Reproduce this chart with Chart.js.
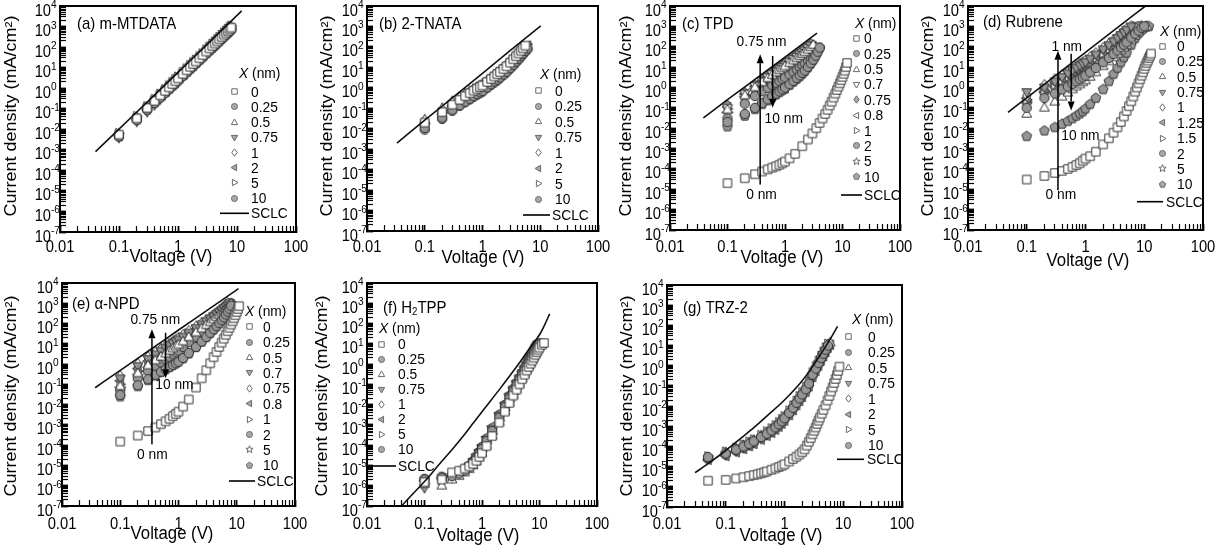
<!DOCTYPE html>
<html>
<head>
<meta charset="utf-8">
<script src="https://cdn.jsdelivr.net/npm/chart.js@4.4.1/dist/chart.umd.min.js"></script>
<style>
html, body { margin: 0; padding: 0; background: #fff; }
#fig { position: relative; width: 1226px; height: 556px; overflow: hidden; background: #fff; }
#fig canvas { position: absolute; }
</style>
</head>
<body>
<div id="fig"></div>
<script>
// ---- axis ticks ----
const xTickValues = [0.01, 0.1, 1, 10, 100];
const xTickLabels = ['0.01', '0.1', '1', '10', '100'];
const yTickExps = [-7, -6, -5, -4, -3, -2, -1, 0, 1, 2, 3, 4];

// ---- (a) m-MTDATA ----
const vA = [0.1,0.2,0.3,0.4,0.5,0.6,0.7,0.8,0.9,1,1.2,1.4,1.6,1.8,2,2.3,2.6,3,3.4,3.8,4.2,4.6,5,5.5,6,6.5,7,7.5,8];
const a0 = [0.0055,0.034,0.11,0.24,0.45,0.74,1.1,1.6,2.2,3.0,5.0,7.5,11,15,20,29,41,61,86,115,150,192,245,315,405,505,615,740,880];
const a025 = [0.0045,0.028,0.088,0.19,0.35,0.58,0.88,1.27,1.75,2.3,3.9,5.9,8.5,11.8,15.7,23,32,48,68,92,120,154,197,255,330,410,500,600,710];
const a05 = [0.0058,0.038,0.12,0.26,0.49,0.82,1.24,1.8,2.5,3.3,5.5,8.3,12,16.7,22,32,46,68,96,130,170,215,275,355,455,565,690,830,980];
const a075 = [0.004,0.024,0.072,0.155,0.29,0.48,0.72,1.05,1.45,1.9,3.2,4.8,7,9.7,13,19,27,40,56,76,99,127,162,210,270,336,410,495,585];
const a1 = [0.0052,0.035,0.105,0.23,0.43,0.71,1.08,1.56,2.15,2.9,4.8,7.2,10.5,14.6,19.4,28,40,60,84,113,148,190,244,315,405,505,615,740,880];
const a2 = [0.0047,0.031,0.095,0.21,0.39,0.65,0.98,1.42,1.96,2.6,4.4,6.6,9.5,13.2,17.6,26,36,54,76,103,134,172,220,285,365,455,555,670,795];
const a5 = [0.0064,0.043,0.13,0.29,0.53,0.88,1.34,1.94,2.7,3.6,6,9,13,18,24,35,49,74,104,140,183,235,300,390,500,625,760,915,1090];
const a10 = [0.0044,0.03,0.09,0.2,0.37,0.61,0.93,1.34,1.85,2.5,4.1,6.2,9,12.5,16.7,24,34,51,72,97,127,163,209,270,347,432,527,634,752];
const aSclcV = [0.04, 0.1, 0.3, 1, 3, 12];
const aSclcJ = [8.1e-4, 0.0102, 0.21, 5.9, 122, 5750];

// ---- (b) 2-TNATA ----
const vB = [0.1,0.2,0.3,0.4,0.5,0.6,0.7,0.8,0.9,1,1.2,1.4,1.6,1.8,2,2.3,2.6,3,3.4,3.8,4.2,4.6,5,5.5,6];
const b0 = [0.02,0.065,0.15,0.26,0.39,0.55,0.73,0.91,1.1,1.3,1.95,2.7,3.6,4.7,6,8.3,11.3,17,25,35,48,65,86,115];
const b025 = [0.011,0.035,0.085,0.14,0.21,0.29,0.39,0.49,0.6,0.7,1.05,1.5,2,2.5,3.2,4.5,6.1,9.1,13.3,19,26,35,46,63,84];
const b05 = [0.028,0.1,0.22,0.36,0.5,0.66,0.84,1.03,1.22,1.4,2,2.7,3.5,4.4,5.5,7.5,10,14.5,21,29,40,54,70,95];
const b075 = [0.013,0.043,0.1,0.17,0.26,0.36,0.48,0.6,0.72,0.85,1.28,1.8,2.4,3.1,3.9,5.4,7.4,11,16,23,31,42,56,76,100];
const b1 = [0.022,0.075,0.18,0.3,0.45,0.63,0.84,1.05,1.27,1.5,2.2,3.1,4.2,5.4,6.9,9.6,13,19.5,28,40,55,75,100];
const b2 = [0.015,0.05,0.12,0.2,0.3,0.42,0.56,0.7,0.85,1,1.5,2.1,2.8,3.6,4.6,6.4,8.7,13,19,27,37,50,66,90,115];
const b5 = [0.018,0.06,0.14,0.24,0.36,0.5,0.67,0.84,1.02,1.2,1.8,2.5,3.4,4.3,5.5,7.7,10.4,15.6,23,32,44,60,79,108];
const b10 = [0.009,0.03,0.075,0.13,0.195,0.27,0.36,0.46,0.55,0.65,0.98,1.37,1.8,2.3,3,4.2,5.7,8.5,12.4,17.5,24,33,43,58,78];
const bSclcV = [0.033, 0.1, 0.3, 1, 3, 10.2];
const bSclcJ = [2e-3, 0.026, 0.32, 5.1, 65, 1070];

// ---- (c) TPD ----
const vC0 = [0.1,0.2,0.3,0.4,0.5,0.6,0.7,0.8,0.9,1,1.2,1.5,2,2.5,3,3.5,4,4.5,5,5.5,6,6.5,7,7.5,8,8.5,9,9.5,10,10.5,11,11.5,12];
const c0 = [2e-5,3.5e-5,5.5e-5,7.5e-5,9.5e-5,1.15e-4,1.35e-4,1.6e-4,1.9e-4,2.3e-4,3.3e-4,5.5e-4,1.3e-3,2.8e-3,5.5e-3,1e-2,1.8e-2,3e-2,5e-2,8e-2,0.13,0.2,0.32,0.5,0.75,1.1,1.6,2.3,3.3,4.7,6.7,10,16];
const vC = [0.1,0.2,0.3,0.4,0.5,0.6,0.7,0.8,0.9,1,1.2,1.4,1.6,1.8,2,2.2,2.5,2.8,3.1,3.4,3.7,4];
const c025 = [0.02,0.05,0.1,0.17,0.26,0.37,0.5,0.64,0.8,0.98,1.45,2.1,2.9,3.9,5.2,6.8,10.3,15.5,23,36,57,90];
const c05 = [0.08,0.4,1.0,1.8,2.8,4,5.4,7,8.8,10.8,15.5,21,27.5,35,44,54,72,95,122];
const c07 = [0.1,0.5,1.2,2.1,3.2,4.6,6.2,8,10,12.5,18,24.5,32,41,52,64,85,112];
const c075 = [0.13,0.55,1.3,2.4,3.8,5.6,7.8,10.3,13,16,23,31,41,52,65,80,105,135];
const c08 = [0.11,0.48,1.15,2.05,3.2,4.6,6.3,8.2,10.3,12.7,18.3,25,33,42,53,65,86,112];
const c1 = [0.09,0.42,1.0,1.85,2.9,4.2,5.7,7.4,9.3,11.5,16.5,22.5,29.5,37.5,47,58,77,100,128];
const c2 = [0.03,0.16,0.38,0.65,0.95,1.3,1.7,2.1,2.6,3.1,4.3,5.8,7.6,9.8,12.5,15.5,21,28,37,49,66,90];
const c5 = [0.05,0.3,0.75,1.3,2,2.8,3.7,4.7,5.8,7,9.8,13,17,21.5,27,33,44,58,76,100];
const c10 = [0.012,0.04,0.085,0.15,0.23,0.33,0.45,0.58,0.72,0.85,1.3,1.9,2.6,3.5,4.7,6.2,9.5,14.5,22,35,55,85];
const cSclcV = [0.038, 0.1, 0.3, 1, 3.6];
const cSclcJ = [0.032, 0.25, 2.5, 31, 460];

// ---- (d) Rubrene ----
const vD0 = [0.1,0.2,0.3,0.4,0.5,0.6,0.7,0.8,0.9,1,1.2,1.5,2,2.5,3,3.5,4,4.5,5,5.5,6,6.5,7,7.5,8,8.5,9,9.5,10,10.5,11,11.5,12,12.5,13];
const d0 = [3e-5,4.5e-5,6.3e-5,8e-5,1e-4,1.25e-4,1.55e-4,1.9e-4,2.5e-4,3.2e-4,4.2e-4,7e-4,1.6e-3,3.2e-3,6e-3,1.1e-2,2e-2,3.8e-2,7e-2,0.12,0.21,0.36,0.62,1.0,1.6,2.5,3.8,5.6,8.2,11.5,16,21,28,36,46];
const vD = [0.1,0.2,0.3,0.4,0.5,0.6,0.7,0.8,0.9,1,1.2,1.5,2,2.5,3,3.5,4,4.5,5,6,7,8,9,10,11,12];
const d025 = [0.1,0.3,0.5,0.8,1.1,1.5,2,2.5,3.1,3.8,5.5,9,17,28,44,65,92,125,165,280,430,620,850,1000];
const d05 = [0.05,0.1,0.2,0.35,0.55,0.8,1.1,1.4,1.8,2.2,3.3,5.5,11,19,30,45,65,90,120,210,340,500,700,900,1000];
const d075 = [0.6,1.0,2,3.3,5,7,9.3,12,15,18,26,42,75,120,185,270,380,510,680,1000];
const d1 = [0.4,1.3,2.5,4,6,8.2,11,14,17,21,30,48,85,140,210,300,420,560,750,1000];
const d125 = [0.3,0.9,1.8,3,4.5,6.2,8.2,10.5,13,16,23,37,66,105,160,235,330,450,600,950];
const d15 = [0.25,0.7,1.4,2.3,3.4,4.7,6.2,8,10,12,17.5,28,50,80,120,175,250,340,450,720,1000];
const d2 = [0.2,0.6,1.2,1.9,2.8,3.8,5,6.4,8,9.8,14,22,40,65,100,145,200,270,360,580,850,1000];
const d5 = [0.15,0.5,0.9,1.4,2,2.8,3.6,4.6,5.8,7,10,16,29,47,72,105,150,200,265,430,640,880,1000];
const d10 = [4e-3,7.5e-3,1.1e-2,1.6e-2,2.2e-2,3e-2,4e-2,5.2e-2,6.6e-2,9e-2,0.15,0.3,0.8,2,4.5,9,17,30,50,120,260,450,650,850,980,1000];
const dSclcV = [0.048, 0.1, 0.3, 1, 3, 10.5];
const dSclcJ = [0.06, 0.31, 3.6, 53, 615, 1e4];

// ---- (e) alpha-NPD ----
const vE0 = [0.1,0.2,0.3,0.4,0.5,0.6,0.7,0.8,0.9,1,1.2,1.5,2,2.5,3,3.5,4,4.5,5,5.5,6,6.5,7,7.5,8,8.5,9,9.5,10,10.5,11];
const e0 = [1.5e-4,3e-4,5e-4,7.5e-4,1.1e-3,1.5e-3,2e-3,2.7e-3,3.5e-3,4.5e-3,8e-3,1.8e-2,7e-2,0.2,0.5,1.1,2.2,4,7,11.5,18,28,42,62,90,130,185,260,370,520,720];
const vE = [0.1,0.2,0.3,0.4,0.5,0.6,0.7,0.8,0.9,1,1.2,1.5,2,2.5,3,3.5,4,4.5,5,5.5,6,6.5,7,7.5,8];
const e025 = [0.03,0.09,0.18,0.3,0.42,0.56,0.72,0.9,1.1,1.3,2,3.5,7,13,22,35,52,75,105,145,200,280,390,540,750];
const e05 = [0.08,0.35,0.85,1.5,2.3,3.3,4.5,5.9,7.4,9,13,21,36,56,82,115,155,205,265,335,420,520,640,780,950];
const e07 = [0.2,0.8,1.8,3.1,4.6,6.4,8.5,11,13.5,16.5,23,36,60,92,130,175,230,295,370,460,570,700,850,1000];
const e075 = [0.25,1.0,2.2,3.8,5.6,7.8,10,13,16,19,27,42,70,105,150,200,260,330,420,520,650,800,1000];
const e08 = [0.15,0.6,1.4,2.5,3.8,5.4,7.2,9.3,11.5,14,20,31,52,80,115,155,205,265,335,420,520,640,780,930];
const e1 = [0.1,0.45,1.1,2,3,4.3,5.8,7.5,9.4,11.5,16.5,26,44,68,98,135,180,235,300,380,470,580,710,850,1000];
const e2 = [0.05,0.2,0.45,0.8,1.2,1.7,2.3,3,3.8,4.7,7,12,22,37,57,84,118,160,215,285,370,480,620,800,1000];
const e5 = [0.06,0.25,0.6,1.1,1.7,2.5,3.4,4.4,5.6,7,10,17,30,47,70,98,135,180,235,300,380,470,580,710,870];
const e10 = [0.025,0.08,0.16,0.27,0.4,0.55,0.7,0.88,1.08,1.3,1.9,3.3,6.8,12.5,21,33,50,73,103,142,195,270,380,530,750];
const eSclcV = [0.037, 0.1, 0.3, 1, 3, 10.7];
const eSclcJ = [0.068, 0.49, 4.3, 48, 420, 5250];

// ---- (f) H2TPP ----
const vF = [0.1,0.2,0.3,0.4,0.5,0.6,0.7,0.8,0.9,1,1.2,1.5,2,2.5,3,3.5,4,4.5,5,5.5,6,6.5,7,7.5,8,8.5,9,9.5,10,11,12];
const f0 = [1.5e-6,2e-6,4.5e-6,5.5e-6,7e-6,9e-6,1.2e-5,1.7e-5,2.6e-5,4e-5,9e-5,2.8e-4,1.3e-3,4.5e-3,1.2e-2,2.8e-2,5.5e-2,0.1,0.18,0.3,0.48,0.72,1.05,1.5,2.1,2.9,3.9,5.1,6.5,9,11];
const f025 = [2e-6,2.5e-6,3e-6,4e-6,5.5e-6,8e-6,1.3e-5,2.2e-5,3.8e-5,6.5e-5,1.6e-4,5e-4,2.3e-3,7.5e-3,0.02,0.045,0.09,0.17,0.3,0.5,0.8,1.2,1.8,2.7,4,5.6,7.5,9,10];
const f05 = [1.2e-6,1e-6,2e-6,3e-6,4.5e-6,6.5e-6,1e-5,1.6e-5,2.6e-5,4.2e-5,1e-4,3e-4,1.4e-3,4.8e-3,1.3e-2,3e-2,6e-2,0.11,0.2,0.33,0.52,0.8,1.15,1.65,2.3,3.2,4.3,5.7,7.5,10];
const f075 = [8e-7,1.5e-6,2.5e-6,4e-6,6e-6,9e-6,1.5e-5,2.5e-5,4.2e-5,7e-5,1.8e-4,6e-4,2.8e-3,9e-3,0.025,0.055,0.11,0.2,0.36,0.6,0.95,1.45,2.2,3.2,4.6,6.5,8.5,10];
const f1 = [1.5e-6,2.2e-6,3.2e-6,4.5e-6,6.5e-6,9.5e-6,1.5e-5,2.4e-5,4e-5,6.5e-5,1.5e-4,4.5e-4,2e-3,6.5e-3,0.018,0.04,0.08,0.15,0.26,0.43,0.68,1.05,1.55,2.3,3.3,4.6,6.3,8.3,10];
const f2 = [1.8e-6,2.4e-6,3.5e-6,5.2e-6,7.8e-6,1.2e-5,2e-5,3.4e-5,5.8e-5,1e-4,2.6e-4,8.5e-4,3.8e-3,0.012,0.032,0.07,0.14,0.25,0.44,0.72,1.1,1.7,2.5,3.6,5.2,7.2,9.5];
const f5 = [1.3e-6,1.9e-6,2.8e-6,3.8e-6,5.5e-6,8e-6,1.2e-5,1.9e-5,3.1e-5,5e-5,1.2e-4,3.6e-4,1.6e-3,5.2e-3,0.014,0.032,0.064,0.12,0.21,0.35,0.55,0.85,1.28,1.9,2.7,3.8,5.2,7,9,10.5];
const f10 = [2.2e-6,2.8e-6,3.4e-6,4.6e-6,6.5e-6,9.5e-6,1.6e-5,2.7e-5,4.6e-5,8e-5,2e-4,6.5e-4,3e-3,9.5e-3,0.026,0.058,0.115,0.21,0.37,0.62,0.98,1.5,2.25,3.3,4.7,6.6,8.8,10];
const fSclcV = [0.04,0.06,0.1,0.2,0.3,0.5,0.7,1,2,3,5,7,10,12,15];
const fSclcJ = [1e-7,3.5e-7,1.6e-6,1.6e-5,6e-5,3.5e-4,1.2e-3,4.5e-3,5.5e-2,0.25,1.8,7,28,75,300];

// ---- (g) TRZ-2 ----
const vG0 = [0.05,0.1,0.15,0.2,0.25,0.3,0.35,0.4,0.45,0.5,0.6,0.7,0.8,0.9,1,1.2,1.4,1.6,1.8,2,2.2,2.4,2.6,2.8,3,3.2,3.4,3.6,3.8,4,4.3,4.6,5,5.4,5.8,6.2,6.6,7,7.4,7.8,8.2,8.6];
const g0 = [2e-6,2.2e-6,2.6e-6,3e-6,3.4e-6,3.8e-6,4.2e-6,4.7e-6,5.2e-6,5.8e-6,7e-6,8.2e-6,9.6e-6,1.1e-5,1.3e-5,1.8e-5,2.4e-5,3.1e-5,4e-5,5.2e-5,7.2e-5,1.1e-4,1.7e-4,2.6e-4,4e-4,6e-4,8.8e-4,1.3e-3,1.9e-3,2.7e-3,4.2e-3,6.5e-3,1.1e-2,1.9e-2,3.2e-2,5.3e-2,8.5e-2,0.14,0.22,0.35,0.55,0.9];
const vG = [0.05,0.1,0.15,0.2,0.25,0.3,0.4,0.5,0.6,0.7,0.8,0.9,1,1.2,1.4,1.6,1.8,2,2.3,2.6,3,3.4,3.8,4.2,4.6,5,5.5,6];
const g025 = [3e-5,4.5e-5,7e-5,1e-4,1.35e-4,1.8e-4,2.9e-4,4.3e-4,6.2e-4,8.8e-4,1.25e-3,1.75e-3,2.5e-3,4.6e-3,8.2e-3,1.45e-2,2.4e-2,3.8e-2,6.8e-2,0.13,0.36,0.72,1.35,2.4,3.9,6.2,10];
const g05 = [2.8e-5,5e-5,7.8e-5,1.15e-4,1.55e-4,2.05e-4,3.4e-4,5e-4,7.2e-4,1.02e-3,1.45e-3,2.05e-3,2.9e-3,5.4e-3,9.6e-3,1.7e-2,2.8e-2,4.4e-2,7.8e-2,0.15,0.42,0.84,1.55,2.75,4.5,7.2,11,14];
const g075 = [2.5e-5,3.8e-5,5.9e-5,8.5e-5,1.17e-4,1.53e-4,2.5e-4,3.8e-4,5.4e-4,7.6e-4,1.08e-3,1.5e-3,2.2e-3,4e-3,7.2e-3,1.26e-2,2.1e-2,3.3e-2,5.9e-2,0.11,0.32,0.63,1.2,2.1,3.4,5.4,9];
const g1 = [2.7e-5,4.6e-5,7.2e-5,1.05e-4,1.43e-4,1.9e-4,3.1e-4,4.6e-4,6.6e-4,9.4e-4,1.3e-3,1.9e-3,2.6e-3,5e-3,8.8e-3,1.55e-2,2.5e-2,4e-2,7.2e-2,0.13,0.38,0.77,1.43,2.5,4.2,6.6,11];
const g2 = [2.2e-5,3.4e-5,5.2e-5,7.6e-5,1.04e-4,1.36e-4,2.2e-4,3.4e-4,4.8e-4,6.8e-4,9.6e-4,1.36e-3,1.9e-3,3.6e-3,6.4e-3,1.12e-2,1.84e-2,2.9e-2,5.2e-2,9.6e-2,0.28,0.56,1.04,1.84,3,4.8,8,11];
const g5 = [3.2e-5,5.5e-5,8.5e-5,1.24e-4,1.7e-4,2.2e-4,3.6e-4,5.5e-4,7.8e-4,1.1e-3,1.56e-3,2.2e-3,3.1e-3,5.9e-3,1.04e-2,1.8e-2,3e-2,4.7e-2,8.5e-2,0.16,0.46,0.9,1.7,3,4.9,7.8,12];
const g10 = [2.4e-5,4e-5,6.2e-5,9e-5,1.24e-4,1.6e-4,2.7e-4,4e-4,5.7e-4,8.1e-4,1.14e-3,1.6e-3,2.3e-3,4.3e-3,7.6e-3,1.33e-2,2.2e-2,3.4e-2,6.2e-2,0.115,0.33,0.67,1.24,2.2,3.6,5.7,9.5];
const gSclcV = [0.03,0.05,0.1,0.2,0.3,0.5,1,2,3,4,5,6,8];
const gSclcJ = [5e-6,1.4e-5,6.3e-5,3.2e-4,8.5e-4,3.2e-3,0.02,0.18,0.9,3.2,9,21,90];

// ---- legend labels and marker codes ----
const labels8 = ['0', '0.25', '0.5', '0.75', '1', '2', '5', '10'];
const marks8 = ['sq', 'gc', 'ot', 'gv', 'od', 'gl', 'or', 'gc'];
const labelsC = ['0', '0.25', '0.5', '0.7', '0.75', '0.8', '1', '2', '5', '10'];
const marksC = ['sq', 'gc', 'ot', 'ov', 'gd', 'ol', 'or', 'gc', 'os', 'gp'];
const labelsD = ['0', '0.25', '0.5', '0.75', '1', '1.25', '1.5', '2', '5', '10'];
const marksD = ['sq', 'gc', 'ot', 'gv', 'od', 'gl', 'or', 'gc', 'os', 'gp'];
const labelsE = ['0', '0.25', '0.5', '0.7', '0.75', '0.8', '1', '2', '5', '10'];
const marksE = ['sq', 'gc', 'ot', 'gv', 'od', 'gl', 'or', 'gc', 'os', 'gp'];

const FONT = '"Liberation Sans", Arial, Helvetica, sans-serif';
const GRAY = '#969696';
const EDGE = '#333333';

const MARKERS = {
    sq: ['square', 0, false], gc: ['circle', 0, true], ot: ['tri', 0, false],
    gv: ['tri', 180, true], od: ['diamond', 0, false], gl: ['tri', -90, true],
    or: ['tri', 90, false], ov: ['tri', 180, false], gd: ['diamond', 0, true],
    ol: ['tri', -90, false], os: ['star', 0, false], gp: ['pent', 0, true]
};

function shapePath(ctx, shape, r) {
    ctx.beginPath();
    if (shape === 'square') {
        const s = r * 0.85;
        ctx.rect(-s, -s, 2 * s, 2 * s);
    } else if (shape === 'circle') {
        ctx.arc(0, 0, r * 0.95, 0, Math.PI * 2);
    } else if (shape === 'diamond') {
        ctx.moveTo(0, -r * 1.15); ctx.lineTo(r * 0.85, 0);
        ctx.lineTo(0, r * 1.15); ctx.lineTo(-r * 0.85, 0);
        ctx.closePath();
    } else if (shape === 'tri') {
        ctx.moveTo(0, -r * 1.1); ctx.lineTo(r, r * 0.65); ctx.lineTo(-r, r * 0.65);
        ctx.closePath();
    } else if (shape === 'star') {
        for (let i = 0; i < 10; i++) {
            const ang = -Math.PI / 2 + i * Math.PI / 5;
            const rr = i % 2 ? r * 0.5 : r * 1.2;
            ctx.lineTo(Math.cos(ang) * rr, Math.sin(ang) * rr);
        }
        ctx.closePath();
    } else if (shape === 'pent') {
        for (let i = 0; i < 5; i++) {
            const ang = -Math.PI / 2 + i * Math.PI * 2 / 5;
            ctx.lineTo(Math.cos(ang) * r * 1.05, Math.sin(ang) * r * 1.05);
        }
        ctx.closePath();
    }
}

const markerCache = {};
function marker(code, r, edge, gray) {
    const key = code + '_' + r;
    if (markerCache[key]) return markerCache[key];
    const [shape, rot, filled] = MARKERS[code];
    const size = Math.ceil(r * 2.8) + 2;
    const c = document.createElement('canvas');
    c.width = size; c.height = size;
    const g = c.getContext('2d');
    g.translate(size / 2, size / 2);
    g.rotate(rot * Math.PI / 180);
    shapePath(g, shape, r);
    g.fillStyle = filled ? gray : '#fff';
    g.fill();
    g.lineWidth = 1;
    g.strokeStyle = edge;
    g.stroke();
    markerCache[key] = c;
    return c;
}

function txt(ctx, s, x, y, o) {
    o = o || {};
    ctx.save();
    ctx.font = (o.italic ? 'italic ' : '') + (o.size || 15) + 'px ' + FONT;
    ctx.fillStyle = '#000';
    ctx.textAlign = o.align || 'left';
    ctx.textBaseline = o.base || 'alphabetic';
    ctx.translate(x, y);
    ctx.scale(o.sx || 0.92, 1);
    if (o.rot) ctx.rotate(o.rot);
    ctx.fillText(s, 0, 0);
    ctx.restore();
}

function textWidth(ctx, s, size, sx, italic) {
    ctx.save();
    ctx.font = (italic ? 'italic ' : '') + size + 'px ' + FONT;
    const w = ctx.measureText(s).width * sx;
    ctx.restore();
    return w;
}

function hbar(ctx, x1, x2, y, w) {
    ctx.fillRect(Math.min(x1, x2), y - w / 2, Math.abs(x2 - x1), w);
}
function vbar(ctx, x, y1, y2, w) {
    ctx.fillRect(x - w / 2, Math.min(y1, y2), w, Math.abs(y2 - y1));
}

function arrow(ctx, x, y0, y1) {
    const dir = y1 < y0 ? -1 : 1;
    const head = 9;
    vbar(ctx, x, y0, y1 - dir * head, 1.5);
    ctx.beginPath();
    ctx.moveTo(x, y1);
    ctx.lineTo(x - 3.5, y1 - dir * head);
    ctx.lineTo(x + 3.5, y1 - dir * head);
    ctx.closePath();
    ctx.fill();
}

const panels = [
    { key: 'a', box: [0, 0, 320, 280], plot: [60, 5, 296, 232],
      title: [['(a) m-MTDATA']], titlePos: [77, 28.5],
      xTitle: [171, 262], yTitle: [12, 116], xLabelY: 252,
      sclc: [aSclcV, aSclcJ], labels: labels8, marks: marks8,
      volts: [vA, vA, vA, vA, vA, vA, vA, vA],
      currents: [a0, a025, a05, a075, a1, a2, a5, a10],
      legend: { hx: 239, hy: 73, mx: 234, tx: 251, y0: 91.7, dy: 15.2, sx1: 220, sx2: 249, sy: 213.3, stx: 251 },
      arrows: [], notes: [] },
    { key: 'b', box: [305, 0, 320, 280], plot: [367, 5, 598, 231],
      title: [['(b) 2-TNATA']], titlePos: [379, 28.5],
      xTitle: [483, 263], yTitle: [328, 116], xLabelY: 252,
      sclc: [bSclcV, bSclcJ], labels: labels8, marks: marks8,
      volts: [vB, vB, vB, vB, vB, vB, vB, vB],
      currents: [b0, b025, b05, b075, b1, b2, b5, b10],
      legend: { hx: 540, hy: 74, mx: 538, tx: 555, y0: 90.7, dy: 15.5, sx1: 523, sx2: 550, sy: 215, stx: 552 },
      arrows: [], notes: [] },
    { key: 'c', box: [610, 0, 320, 280], plot: [670, 5, 900, 230],
      title: [['(c) TPD']], titlePos: [682, 28.5],
      xTitle: [782, 263], yTitle: [627, 116], xLabelY: 252,
      sclc: [cSclcV, cSclcJ], labels: labelsC, marks: marksC,
      volts: [vC0, vC, vC, vC, vC, vC, vC, vC, vC, vC],
      currents: [c0, c025, c05, c07, c075, c08, c1, c2, c5, c10],
      legend: { hx: 855, hy: 22.7, mx: 856, tx: 864, y0: 38.3, dy: 15.37, sx1: 841, sx2: 862, sy: 195, stx: 864 },
      arrows: [[0.37, 1.7e-5, 43], [0.61, 35, 0.1]],
      notes: [['0.75 nm', 0.39, 190], ['0 nm', 0.39, 6e-6], ['10 nm', 0.95, 0.032]] },
    { key: 'd', box: [915, 0, 311, 280], plot: [968, 5, 1203, 230],
      title: [['(d) Rubrene']], titlePos: [983, 27],
      xTitle: [1088, 266], yTitle: [929, 116], xLabelY: 252,
      sclc: [dSclcV, dSclcJ], labels: labelsD, marks: marksD,
      volts: [vD0, vD, vD, vD, vD, vD, vD, vD, vD, vD],
      currents: [d0, d025, d05, d075, d1, d125, d15, d2, d5, d10],
      legend: { hx: 1160, hy: 30.7, mx: 1162, tx: 1177, y0: 46, dy: 15.37, sx1: 1137, sx2: 1163, sy: 201.7, stx: 1166 },
      arrows: [[0.34, 8.9e-6, 63], [0.57, 45, 0.074]],
      notes: [['1 nm', 0.48, 110], ['0 nm', 0.38, 6.2e-6], ['10 nm', 0.82, 4.4e-3]] },
    { key: 'e', box: [0, 276, 320, 280], plot: [62, 283, 295, 506],
      title: [['(e) \u03b1-NPD']], titlePos: [72, 309.3],
      xTitle: [172, 539], yTitle: [12, 396], xLabelY: 529,
      sclc: [eSclcV, eSclcJ], labels: labelsE, marks: marksE,
      volts: [vE0, vE, vE, vE, vE, vE, vE, vE, vE, vE],
      currents: [e0, e025, e05, e07, e075, e08, e1, e2, e5, e10],
      legend: { hx: 245, hy: 311, mx: 249, tx: 263, y0: 326.7, dy: 15.4, sx1: 229, sx2: 255, sy: 481, stx: 257 },
      arrows: [[0.35, 1.1e-4, 52], [0.6, 35, 0.2]],
      notes: [['0.75 nm', 0.4, 160], ['0 nm', 0.355, 3.5e-5], ['10 nm', 0.85, 0.11]] },
    { key: 'f', box: [305, 276, 320, 280], plot: [367, 283, 597, 506],
      title: [['(f) H'], ['2', 11, 2], ['TPP']], titlePos: [383, 313.3],
      xTitle: [478, 541], yTitle: [323, 396], xLabelY: 529,
      sclc: [fSclcV, fSclcJ], labels: labels8, marks: marks8,
      volts: [vF, vF, vF, vF, vF, vF, vF, vF],
      currents: [f0, f025, f05, f075, f1, f2, f5, f10],
      legend: { hx: 379, hy: 327.7, mx: 381, tx: 398, y0: 344.3, dy: 15, sx1: 370, sx2: 396, sy: 466, stx: 398 },
      arrows: [], notes: [] },
    { key: 'g', box: [610, 276, 320, 280], plot: [667, 285, 902, 507],
      title: [['(g) TRZ-2']], titlePos: [683, 313.3],
      xTitle: [781, 541], yTitle: [628, 396], xLabelY: 529,
      sclc: [gSclcV, gSclcJ], labels: labels8, marks: marks8,
      volts: [vG0, vG, vG, vG, vG, vG, vG, vG],
      currents: [g0, g025, g05, g075, g1, g2, g5, g10],
      legend: { hx: 852, hy: 319.3, mx: 848, tx: 868, y0: 336.7, dy: 15.5, sx1: 837, sx2: 864, sy: 459.3, stx: 867 },
      arrows: [], notes: [] }
];

function panelPlugin(p) {
    const ox = p.box[0], oy = p.box[1];
    return {
        id: 'panel_' + p.key,
        afterDraw(chart) {
            const ctx = chart.ctx;
            const xs = chart.scales.x, ys = chart.scales.y;
            const left = xs.getPixelForValue(xTickValues[0]);
            ctx.save();
            ctx.fillStyle = '#000000';

            p.arrows.forEach(ar => {
                arrow(ctx, xs.getPixelForValue(ar[0]), ys.getPixelForValue(ar[1]), ys.getPixelForValue(ar[2]));
            });
            p.notes.forEach(n => {
                txt(ctx, n[0], xs.getPixelForValue(n[1]), ys.getPixelForValue(n[2]) + 5, { size: 15, align: 'center', sx: 0.92 });
            });

            xTickValues.forEach((v, i) => {
                txt(ctx, xTickLabels[i], xs.getPixelForValue(v), p.xLabelY - oy, { size: 16, align: 'center', sx: 0.92 });
            });
            yTickExps.forEach(e => {
                const py = ys.getPixelForValue(Math.pow(10, e));
                txt(ctx, '10', left - 9, py + 9.5, { size: 16, align: 'right', sx: 0.92 });
                txt(ctx, e < 0 ? '-' + (-e) : String(e), left - 9, py + 2, { size: 11, align: 'left', sx: 0.92 });
            });

            txt(ctx, 'Voltage (V)', p.xTitle[0] - ox, p.xTitle[1] - oy, { size: 18, align: 'center', sx: 0.93 });
            txt(ctx, 'Current density (mA/cm\u00b2)', p.yTitle[0] - ox, p.yTitle[1] - oy,
                { size: 18, align: 'center', base: 'middle', sx: 0.9, rot: -Math.PI / 2 });

            let tx = p.titlePos[0] - ox;
            p.title.forEach(sg => {
                const size = sg[1] || 17;
                txt(ctx, sg[0], tx, p.titlePos[1] - oy + (sg[2] || 0), { size: size, sx: 0.88 });
                tx += textWidth(ctx, sg[0], size, 0.88, false);
            });

            const lg = p.legend;
            txt(ctx, 'X', lg.hx - ox, lg.hy - oy + 5, { size: 15, italic: true, sx: 0.92 });
            const wx = textWidth(ctx, 'X', 15, 0.92, true);
            txt(ctx, ' (nm)', lg.hx - ox + wx, lg.hy - oy + 5, { size: 15, sx: 0.92 });
            p.labels.forEach((lab, i) => {
                const y = lg.y0 - oy + i * lg.dy;
                const mk = marker(p.marks[i], 3.2, '#6a6a6a', '#a8a8a8');
                ctx.drawImage(mk, Math.round(lg.mx - ox - mk.width / 2), Math.round(y - mk.height / 2));
                txt(ctx, lab, lg.tx - ox, y + 5, { size: 15, sx: 0.92 });
            });
            ctx.fillStyle = '#000000';
            hbar(ctx, lg.sx1 - ox, lg.sx2 - ox, lg.sy - oy, 1.6);
            txt(ctx, 'SCLC', lg.stx - ox, lg.sy - oy + 5, { size: 15, sx: 0.92 });

            ctx.restore();
        }
    };
}

// Chart.js draws the frame (axis borders) and inward tick marks itself
const tickGrid = {
    display: true,
    drawOnChartArea: false,
    drawTicks: true,
    tickLength: -6,
    color: 'rgba(0,0,0,0)',
    tickColor: c => (c.tick && c.tick.significand === 15) ? 'rgba(0,0,0,0)' : '#000',
    tickWidth: c => (c.tick && c.tick.major) ? 1.8 : 1.2
};
const frameBorder = { display: true, color: '#000', width: 2 };

function buildPanel(p) {
    const fig = document.getElementById('fig');
    const cv = document.createElement('canvas');
    cv.width = p.box[2];
    cv.height = p.box[3];
    cv.style.left = p.box[0] + 'px';
    cv.style.top = p.box[1] + 'px';
    fig.appendChild(cv);

    const L = p.plot[0] - p.box[0], T = p.plot[1] - p.box[1];
    const R = p.plot[2] - p.box[0], B = p.plot[3] - p.box[1];

    // SCLC line first so it is drawn on top of the markers
    const datasets = [{
        data: p.sclc[1].map((y, i) => ({ x: p.sclc[0][i], y: y })),
        showLine: true,
        borderColor: '#111',
        borderWidth: 1.6,
        pointRadius: 0,
        cubicInterpolationMode: 'monotone'
    }];
    p.currents.forEach((cur, k) => {
        const volts = p.volts[k];
        datasets.push({
            data: cur.map((y, i) => ({ x: volts[i], y: y })),
            pointStyle: marker(p.marks[k], 4.9, EDGE, GRAY),
            pointRadius: 5,
            showLine: false
        });
    });

    return new Chart(cv, {
        type: 'scatter',
        data: { datasets: datasets },
        options: {
            responsive: false,
            animation: false,
            devicePixelRatio: 1,
            events: [],
            layout: { padding: { left: 0, top: T, right: cv.width - R, bottom: 0 } },
            plugins: { legend: { display: false }, tooltip: { enabled: false } },
            scales: {
                x: {
                    type: 'logarithmic', position: 'bottom', min: 0.01, max: 100,
                    ticks: { display: false }, grid: tickGrid, border: frameBorder,
                    afterFit: s => { s.height = cv.height - B; }
                },
                y: {
                    type: 'logarithmic', position: 'left', min: 1e-7, max: 1e4,
                    ticks: { display: false }, grid: tickGrid, border: frameBorder,
                    afterFit: s => { s.width = L; }
                },
                xTop: {
                    type: 'logarithmic', position: 'top', display: true, min: 0.01, max: 100,
                    ticks: { display: false }, grid: { display: false }, border: frameBorder,
                    afterFit: s => { s.height = 0; }
                },
                yRight: {
                    type: 'logarithmic', position: 'right', display: true, min: 1e-7, max: 1e4,
                    ticks: { display: false }, grid: { display: false }, border: frameBorder,
                    afterFit: s => { s.width = 0; }
                }
            }
        },
        plugins: [panelPlugin(p)]
    });
}

panels.forEach(buildPanel);
</script>
</body>
</html>
